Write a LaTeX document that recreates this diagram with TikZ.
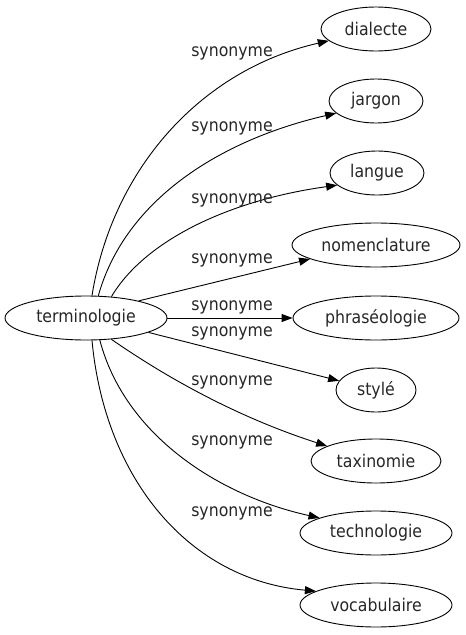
\documentclass[tikz,border=0pt]{standalone}
\usepackage{fontspec}
\setmainfont{DejaVu Sans}[FakeStretch=0.9]
\usetikzlibrary{arrows.meta, positioning, shapes.geometric}

\begin{document}
\begin{tikzpicture}[x=1pt, y=1pt,
    every node/.style={font=\fontsize{17.5}{20}\selectfont, text=black!85},
    word/.style={draw, ellipse, line width=0.9pt, inner sep=0pt, minimum height=44pt},
    lbl/.style={inner sep=0pt},
    syn/.style={-{Triangle[length=11pt, width=8pt]}, line width=0.9pt}]
  \useasboundingbox (0,0) rectangle (466,-635);

  \node[word, minimum width=162pt] (term) at (86,-318) {terminologie};

  \node[word, minimum width=110pt] (dialecte) at (376,-29) {dialecte};
  \node[word, minimum width=94pt] (jargon) at (376,-101) {jargon};
  \node[word, minimum width=94pt] (langue) at (377,-173) {langue};
  \node[word, minimum width=168pt] (nomen) at (376,-245) {nomenclature};
  \node[word, minimum width=166pt] (phraseo) at (376,-318) {phraséologie};
  \node[word, minimum width=80pt] (style) at (376,-390) {stylé};
  \node[word, minimum width=130pt] (taxi) at (376,-461) {taxinomie};
  \node[word, minimum width=152pt] (techno) at (376,-533) {technologie};
  \node[word, minimum width=152pt] (vocab) at (376,-605) {vocabulaire};

  % edges
  \draw[syn] (term.75) .. controls (112,-170) and (200,-70) .. (dialecte.194);
  \draw[syn] (term.61) .. controls (125,-200) and (220,-140) .. (jargon.197);
  \draw[syn] (term.40) .. controls (145,-240) and (230,-200) .. (langue.197);
  \draw[syn] (term.18) -- (nomen.192);
  \draw[syn] (term) -- (phraseo);
  \draw[syn] (term.-13) -- (style.166);
  \draw[syn] (term.-40) .. controls (173,-382) and (243,-419) .. (taxi.163);
  \draw[syn] (term.-58) .. controls (125,-436) and (220,-496) .. (techno.165);
  \draw[syn] (term.-75) .. controls (105,-480) and (190,-580) .. (vocab.167);

  % labels
  \node[lbl] (s1) at (232,-53) {synonyme};
  \node[lbl] (s2) at (232,-128) {synonyme};
  \node[lbl] (s3) at (232,-200) {synonyme};
  \node[lbl] (s4) at (232,-260) {synonyme};
  \node[lbl] (s5) at (232,-307) {synonyme};
  \node[lbl] (s6) at (232,-333) {synonyme};
  \node[lbl] (s7) at (232,-382) {synonyme};
  \node[lbl] (s8) at (232,-442) {synonyme};
  \node[lbl] (s9) at (232,-513) {synonyme};
\end{tikzpicture}
\end{document}
